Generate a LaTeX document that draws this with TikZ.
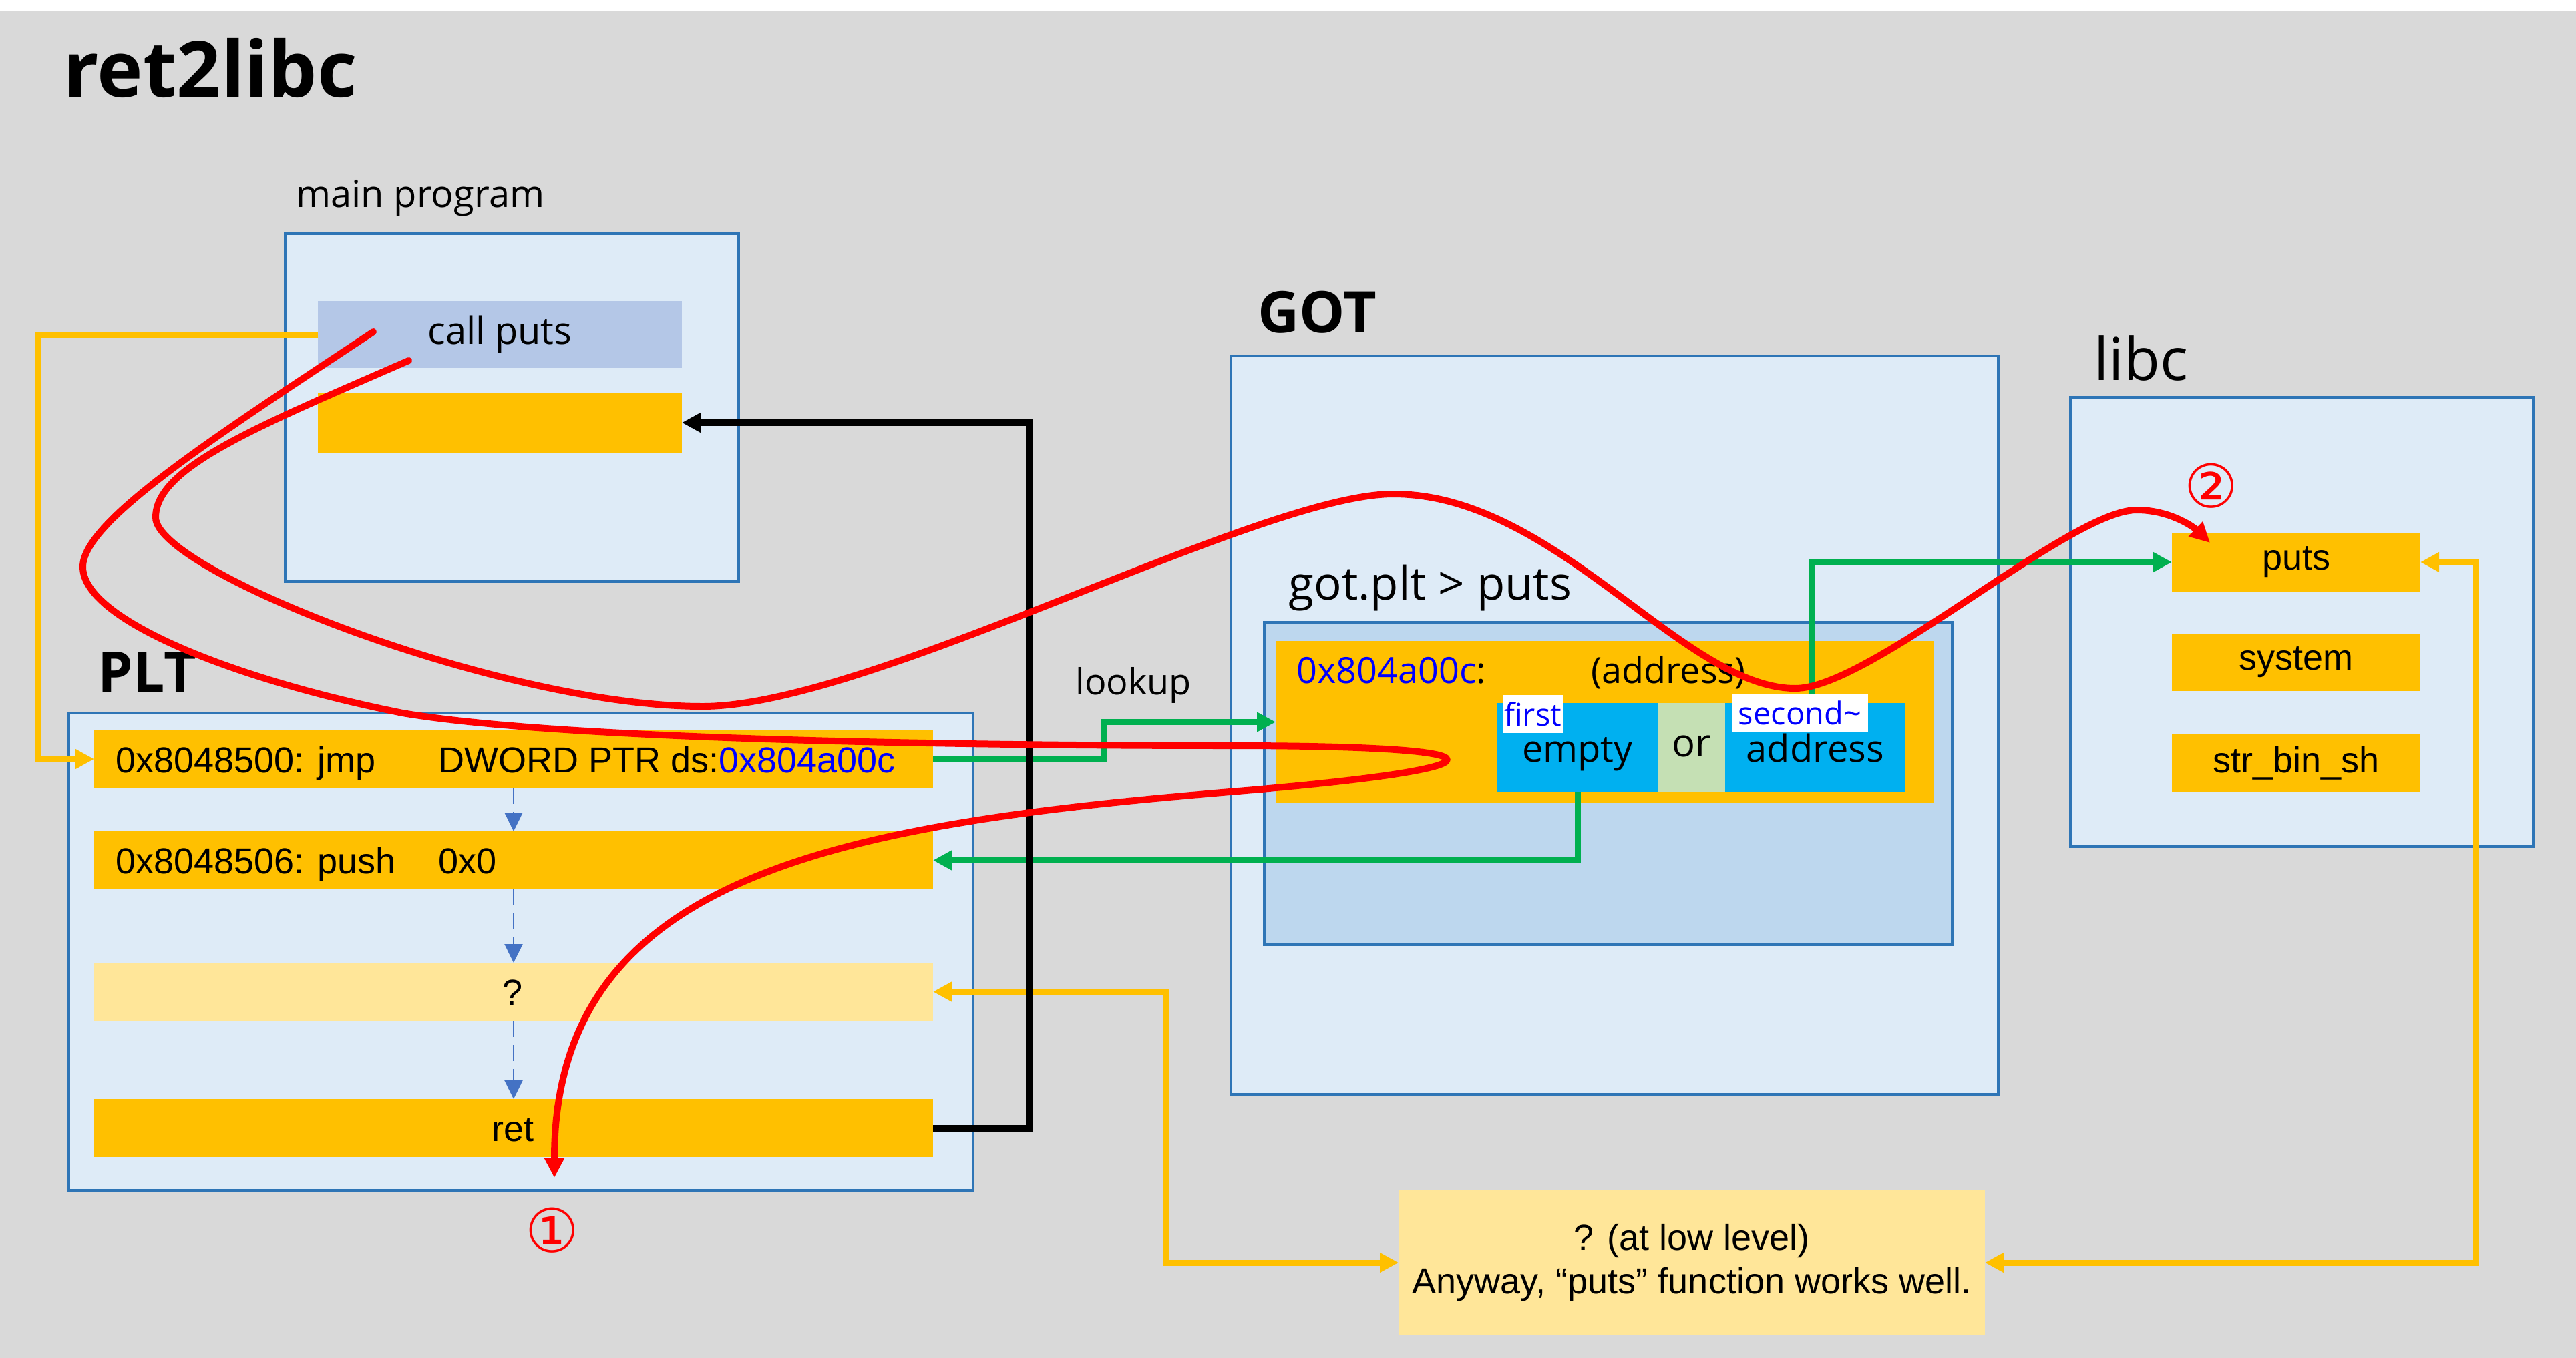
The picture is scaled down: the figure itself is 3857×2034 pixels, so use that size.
\documentclass[tikz,border=0pt]{standalone}
\usepackage{fontspec}
\setmainfont{Open Sans}
\newfontfamily\arialf{Liberation Sans}
\newfontfamily\djv{DejaVu Sans}
\usetikzlibrary{arrows.meta}
\definecolor{bggray}{HTML}{D9D9D9}
\definecolor{ylw}{HTML}{FFC000}
\definecolor{lylw}{HTML}{FFE699}
\definecolor{boxfill}{HTML}{DEEBF7}
\definecolor{boxline}{HTML}{2E75B6}
\definecolor{callfill}{HTML}{B4C7E7}
\definecolor{innerfill}{HTML}{BDD7EE}
\definecolor{cyanb}{HTML}{00B0F0}
\definecolor{orfill}{HTML}{C5E0B4}
\definecolor{grn}{HTML}{00B050}
\definecolor{tblue}{HTML}{0000FF}
\definecolor{dblue}{HTML}{4472C4}
\definecolor{redl}{HTML}{FF0000}
\newcommand{\fsz}[1]{\fontsize{#1}{#1}\selectfont}
\begin{document}
\begin{tikzpicture}[x=1pt,y=-1pt,
  sz/.style 2 args={minimum width=#1pt,minimum height=#2pt},
  plain/.style={inner sep=0pt,outer sep=0pt},
  panel/.style={plain,draw=boxline,fill=boxfill,line width=4.5pt},
  inner/.style={plain,draw=boxline,fill=innerfill,line width=5pt},
  bar/.style={plain,fill=ylw},
  lbar/.style={plain,fill=lylw},
  atxt/.style={font=\arialf\fsz{54}},
  otxt/.style={font=\fsz{56}},
  tip/.style={-{Triangle[length=28pt,width=28pt]}},
  tips/.style={{Triangle[length=28pt,width=28pt]}-{Triangle[length=28pt,width=28pt]}},
  yline/.style={draw=ylw,line width=9pt},
  gline/.style={draw=grn,line width=9pt},
  kline/.style={draw=black,line width=10pt},
  rline/.style={draw=redl,line width=10pt,line cap=round,line join=round,-{Triangle[length=30pt,width=29pt]}},
  dline/.style={draw=dblue,line width=2.5pt,dash pattern=on 24pt off 12pt,-{Triangle[length=28pt,width=27pt]}},
  lbl/.style={plain,fill=white,text=tblue,font=\fsz{47},anchor=north west},
  circ/.style={text=redl,font=\djv\fsz{90}}
]
\useasboundingbox (0,0) rectangle (3857,2034);
\fill[bggray] (0,17) rectangle (3857,2034);

% title
\node[anchor=base west,font=\bfseries\fsz{116}] (title) at (92,145) {ret2libc};

% main program
\node[anchor=base west,otxt] (mainlbl) at (440,310) {main program};
\node[panel,sz={679}{521}] (mainbox) at (766.5,610.5) {};
\node[plain,fill=callfill,sz={545}{100},otxt] (callputs) at (748.5,501) {call puts};
\node[bar,sz={545}{90}] (mainret) at (748.5,633) {};

% PLT
\node[anchor=base west,font=\bfseries\fsz{84}] (pltlbl) at (143,1036) {PLT};
\node[panel,sz={1354}{715}] (pltbox) at (780,1425.5) {};
\node[bar,sz={1256}{86}] (jmp) at (769,1137) {};
\node[bar,sz={1256}{87}] (push) at (769,1288.5) {};
\node[lbar,sz={1256}{87}] (qrow) at (769,1485.5) {};
\node[bar,sz={1256}{87}] (ret) at (769,1689.5) {};
\node[anchor=base west,atxt] (jmpa) at (170,1157) {0x8048500: jmp};
\node[anchor=base west,atxt] (jmpb) at (653,1157) {DWORD PTR ds:\textcolor{tblue}{0x804a00c}};
\node[anchor=base west,atxt] (pusha) at (170,1308) {0x8048506: push};
\node[anchor=base west,atxt] (pushb) at (653,1308) {0x0};
\node[anchor=base,atxt] (qtxt) at (768,1505) {?};
\node[anchor=base,atxt] (rettxt) at (768,1709) {ret};

% GOT
\node[anchor=base west,font=\bfseries\fsz{86}] (gotlbl) at (1880,498) {GOT};
\node[panel,sz={1149}{1106}] (gotbox) at (2417.5,1086) {};
\node[anchor=base west,font=\fsz{69}] (gotplt) at (1926,898) {got.plt > puts};
\node[inner,sz={1030}{482}] (innerbox) at (2408,1173) {};
\node[bar,sz={986}{243}] (entry) at (2403,1081.5) {};
\node[anchor=base west,font=\fsz{54},text=tblue] (entaddr) at (1938,1023) {0x804a00c\textcolor{black}{:}};
\node[anchor=base west,font=\fsz{54}] (entval) at (2379,1023) {(address)};
\node[plain,fill=cyanb,sz={242}{133}] (emptyb) at (2362,1119.5) {};
\node[plain,fill=orfill,sz={100}{133}] (orb) at (2533,1119.5) {};
\node[plain,fill=cyanb,sz={270}{133}] (addrb) at (2718,1119.5) {};
\node[anchor=base west,font=\fsz{54}] (lookup) at (1607,1040) {lookup};

% libc
\node[anchor=base west,font=\fsz{88}] (libclbl) at (3132,569) {libc};
\node[panel,sz={693}{673}] (libcbox) at (3446.5,931.5) {};
\node[bar,sz={372}{88},atxt] (puts) at (3438,842) {puts};
\node[bar,sz={372}{86},atxt] (system) at (3438,992) {system};
\node[bar,sz={372}{86},atxt] (binsh) at (3438,1143) {str\_bin\_sh};

% low level box
\node[lbar,sz={878}{218},align=center,font=\arialf\fontsize{54}{65}\selectfont] (low) at (2533,1891)
  {? (at low level)\\Anyway, “puts” function works well.};

% connectors
\draw[yline,tip] (callputs.west) -- (57,501) |- (jmp.west);
\draw[gline,tip] (jmp.east) -- (1652,1137) |- (entry.west);
\draw[gline,tip] (emptyb.south) |- (push.east);
\draw[gline,tip] ([xshift=-5pt]addrb.north) |- (puts.west);
\draw[yline,tips] (qrow.east) -- (1745,1485.5) |- (low.west);
\draw[yline,tips] (low.east) -- (3707,1891) |- (puts.east);
\draw[kline,tip] (ret.east) -- (1541,1689.5) |- (mainret.east);
\draw[dline] (jmp.south) -- (push.north);
\draw[dline] (push.south) -- (qrow.north);
\draw[dline] (qrow.south) -- (ret.north);

% texts in the GOT entry, on top of the green line
\node[anchor=base,font=\fsz{56}] (emptyt) at (2362,1141) {empty};
\node[anchor=base,font=\fsz{58}] (ort) at (2533,1133) {or};
\node[anchor=base,font=\fsz{56}] (addrt) at (2718,1141) {address};
\node[lbl,sz={90}{57}] (first) at (2250,1041) {first};
\node[lbl,sz={204}{57}] (second) at (2593,1039) {second\textasciitilde};

% red paths
\coordinate (r1s) at (559,497);
\coordinate (r1e) at (830,1764);
\coordinate (r2s) at (612,540);
\coordinate (r2e) at (3309,813);
\draw[rline] (r1s)
  .. controls (327,651) and (124,780) .. (124,849)
  .. controls (124,929) and (353,1018) .. (603,1068)
  .. controls (850,1110) and (1500,1117) .. (1842,1117)
  .. controls (2275,1117) and (2275,1150) .. (1842,1186)
  .. controls (1242,1236) and (830,1314) .. (r1e);
\draw[rline] (r2s)
  .. controls (383,640) and (233,700) .. (233,775)
  .. controls (233,855) and (752,1058) .. (1052,1058)
  .. controls (1302,1058) and (1886,740) .. (2086,740)
  .. controls (2330,740) and (2520,1031) .. (2688,1031)
  .. controls (2800,1031) and (3099,764) .. (3199,764)
  .. controls (3250,764) and (3285,790) .. (r2e);
\node[circ] (one) at (827,1843) {①};
\node[circ] (two) at (3311,728) {②};
\end{tikzpicture}
\end{document}
